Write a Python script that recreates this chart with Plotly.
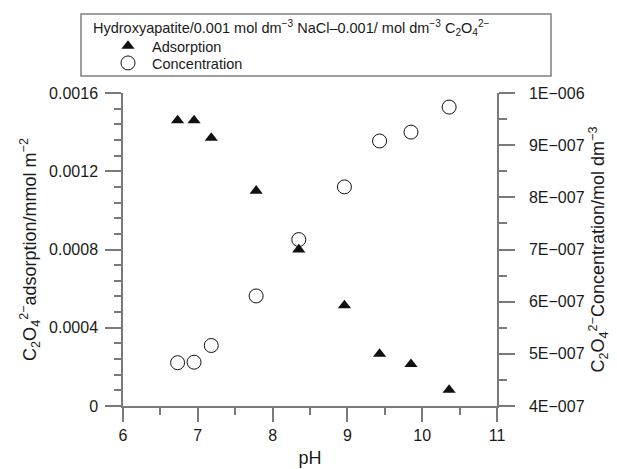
import plotly.graph_objects as go

ph = [6.73, 6.95, 7.18, 7.78, 8.35, 8.96, 9.43, 9.85, 10.36]
adsorption = [0.00146, 0.00146, 0.00137, 0.00110, 0.00080, 0.000514, 0.000266, 0.000214, 0.000082]
concentration = [4.83e-7, 4.84e-7, 5.16e-7, 6.11e-7, 7.19e-7, 8.20e-7, 9.08e-7, 9.25e-7, 9.73e-7]

left_ticks = [0, 0.0004, 0.0008, 0.0012, 0.0016]
left_ticktext = ["0", "0.0004", "0.0008", "0.0012", "0.0016"]
right_ticks = [4e-7, 5e-7, 6e-7, 7e-7, 8e-7, 9e-7, 1e-6]
right_ticktext = ["4E\u2212007", "5E\u2212007", "6E\u2212007", "7E\u2212007", "8E\u2212007", "9E\u2212007", "1E\u2212006"]
x_ticks = [6, 7, 8, 9, 10, 11]

header = ("Hydroxyapatite/0.001 mol dm<sup>\u22123</sup> NaCl\u20130.001/ mol dm<sup>\u22123</sup> "
          "C<sub>2</sub>O<sub>4</sub><sup>2\u2212</sup>")

FONT = "Liberation Sans, Arial, sans-serif"
AX = "#7a7a7a"
TXT = "#1a1a1a"

W, H = 617, 469
L, R, T, B = 123, 120, 93, 63
pw = W - L - R
ph_ = H - T - B


def px2x(px):
    return (px - L) / pw


def py2y(py):
    return (H - B - py) / ph_


fig = go.Figure()
fig.add_trace(go.Scatter(
    x=ph, y=adsorption, mode="markers", name="Adsorption", legend="legend",
    marker=dict(symbol="triangle-up", size=11.5, color="#111111", line=dict(width=0)),
))
fig.add_trace(go.Scatter(
    x=ph, y=concentration, mode="markers", name="Concentration", yaxis="y2", legend="legend2",
    marker=dict(symbol="circle-open", size=14, color="#111111", line=dict(width=1)),
))

fig.add_shape(type="rect", xref="paper", yref="paper",
              x0=px2x(81), x1=px2x(551), y0=py2y(76), y1=py2y(14),
              line=dict(color="#808080", width=1.5), fillcolor="rgba(0,0,0,0)")

fig.add_annotation(text=header, xref="paper", yref="paper",
                   x=px2x(91), y=py2y(28), xanchor="left", yanchor="middle",
                   showarrow=False, font=dict(size=14.5, family=FONT, color=TXT))

leg_common = dict(xanchor="left", yanchor="middle", bgcolor="rgba(0,0,0,0)", borderwidth=0,
                  font=dict(size=14.5, family=FONT, color=TXT), itemwidth=38)

fig.update_layout(
    width=W, height=H,
    margin=dict(l=L, r=R, t=T, b=B),
    paper_bgcolor="white", plot_bgcolor="white",
    font=dict(family=FONT, color=TXT, size=16),
    showlegend=True,
    legend=dict(x=px2x(104), y=py2y(46), **leg_common),
    legend2=dict(x=px2x(104), y=py2y(63), **leg_common),
    xaxis=dict(
        range=[6, 11], tickvals=x_ticks, ticktext=[str(v) for v in x_ticks],
        showline=True, linecolor=AX, linewidth=1.5, mirror=False,
        ticks="outside", ticklen=14, tickcolor=AX, tickwidth=1.5,
        minor=dict(dtick=0.5, tick0=6, ticks="outside", ticklen=7, tickcolor=AX, tickwidth=1.5),
        showgrid=False, zeroline=False, automargin=False,
        title=dict(text="pH", font=dict(size=18), standoff=8),
        tickfont=dict(size=16),
    ),
    yaxis=dict(
        range=[0, 0.0016], tickvals=left_ticks, ticktext=left_ticktext,
        showline=True, linecolor=AX, linewidth=1.5,
        ticks="outside", ticklen=16, tickcolor=AX, tickwidth=1.5, ticklabelstandoff=4,
        minor=dict(dtick=0.00008, tick0=0, ticks="outside", ticklen=7, tickcolor=AX, tickwidth=1.5),
        showgrid=False, zeroline=False, automargin=False,
        title=dict(text="C<sub>2</sub>O<sub>4</sub><sup>2\u2212</sup>adsorption/mmol m<sup>\u22122</sup>",
                   font=dict(size=18), standoff=8),
        tickfont=dict(size=16),
    ),
    yaxis2=dict(
        range=[4e-7, 1e-6], tickvals=right_ticks, ticktext=right_ticktext,
        overlaying="y", side="right",
        showline=True, linecolor=AX, linewidth=1.5,
        ticks="outside", ticklen=16, tickcolor=AX, tickwidth=1.5, ticklabelstandoff=11,
        minor=dict(dtick=0.5e-7, tick0=4e-7, ticks="outside", ticklen=8, tickcolor=AX, tickwidth=1.5),
        showgrid=False, zeroline=False, automargin=False,
        title=dict(text="C<sub>2</sub>O<sub>4</sub><sup>2\u2212</sup>Concentration/mol dm<sup>\u22123</sup>",
                   font=dict(size=18), standoff=8),
        tickfont=dict(size=16),
    ),
)

fig.write_html("out.html")
